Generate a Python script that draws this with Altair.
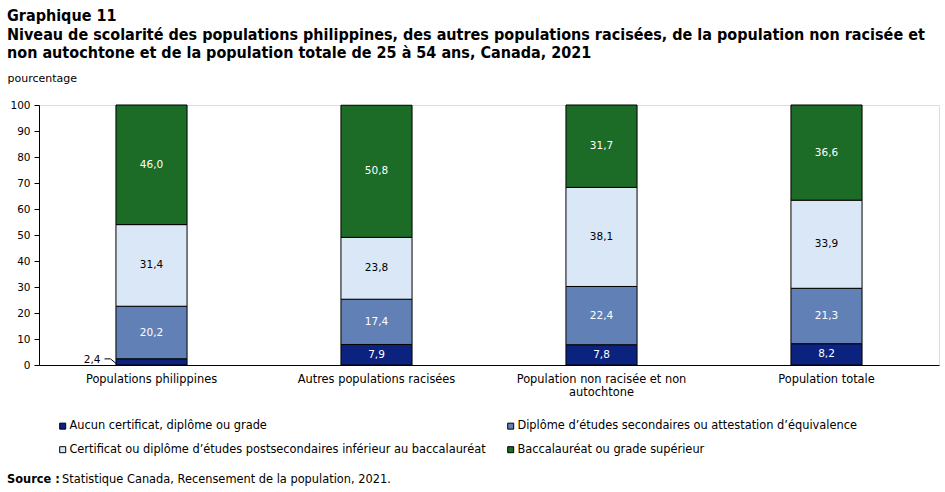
import altair as alt
import pandas as pd

categories = [
    "Populations philippines",
    "Autres populations racisées",
    "Population non racisée et non autochtone",
    "Population totale",
]
levels = [
    "Aucun certificat, diplôme ou grade",
    "Diplôme d’études secondaires ou attestation d’équivalence",
    "Certificat ou diplôme d’études postsecondaires inférieur au baccalauréat",
    "Baccalauréat ou grade supérieur",
]
aucun = [2.4, 7.9, 7.8, 8.2]
secondaire = [20.2, 17.4, 22.4, 21.3]
certificat = [31.4, 23.8, 38.1, 33.9]
bacc = [46.0, 50.8, 31.7, 36.6]
y_ticks = [0, 10, 20, 30, 40, 50, 60, 70, 80, 90, 100]
colors = ["#0b237e", "#6181b6", "#d9e7f6", "#1c6b27"]
text_colors = ["#ffffff", "#ffffff", "#000000", "#ffffff"]

rows = []
for i, c in enumerate(categories):
    for j, (lvl, vals) in enumerate(zip(levels, [aucun, secondaire, certificat, bacc])):
        rows.append({"cat": c, "level": lvl, "order": j, "value": vals[i],
                     "label": f"{vals[i]:.1f}".replace(".", ",")})
df = pd.DataFrame(rows)

FONT = "DejaVu Sans"
FS = 11.4

base = alt.Chart(df).transform_stack(
    stack="value", groupby=["cat"], sort=[alt.SortField("order")], as_=["y0", "y1"]
).transform_calculate(mid="(datum.y0 + datum.y1) / 2")

x_axis = alt.Axis(
    labelAngle=0, ticks=False, domainColor="#000000", labelColor="#000000",
    labelFont=FONT, labelFontSize=FS, labelPadding=8, labelLineHeight=13,
    labelExpr="datum.label == 'Population non racisée et non autochtone' ? ['Population non racisée et non', 'autochtone'] : datum.label",
)
x_scale = alt.Scale(paddingInner=0.684, paddingOuter=0.342)
x_enc = alt.X("cat:N", sort=categories, title=None, scale=x_scale, axis=x_axis)

y_scale = alt.Scale(domain=[0, 100], nice=False)
y_axis = alt.Axis(values=y_ticks, grid=False, labelOverlap=False,
                  domainColor="#000000", tickColor="#000000", tickSize=5,
                  labelColor="#000000", labelFont=FONT, labelFontSize=10.5,
                  labelPadding=4,
                  titleAngle=0, titleAlign="left", titleBaseline="middle",
                  titleX=-32, titleY=-27, titleFont=FONT, titleFontSize=11,
                  titleFontWeight="normal", titleColor="#000000")


def ycol(field):
    return alt.Y(field, scale=y_scale, title="pourcentage", axis=y_axis)


bars = base.mark_bar(stroke="#000000", strokeWidth=1).encode(
    x=x_enc,
    y=ycol("y0:Q"),
    y2="y1:Q",
    color=alt.Color("level:N", sort=levels,
                    scale=alt.Scale(domain=levels, range=colors),
                    legend=alt.Legend(
                        title=None, orient="none", legendX=18, legendY=315,
                        direction="horizontal", columns=2, columnPadding=19,
                        rowPadding=11, symbolType="square", symbolSize=36,
                        symbolStrokeColor="#000000", symbolStrokeWidth=1,
                        labelFont=FONT, labelFontSize=FS, labelColor="#000000",
                        labelLimit=600, symbolOffset=0, labelOffset=1,
                    )),
    order=alt.Order("order:Q"),
)

labels = base.transform_filter("datum.value >= 3").mark_text(
    font=FONT, fontSize=10.5, baseline="middle", align="center"
).encode(
    x=x_enc,
    y=ycol("mid:Q"),
    text="label:N",
    color=alt.Color("level:N", scale=alt.Scale(domain=levels, range=text_colors), legend=None),
)

small = base.transform_filter("datum.value < 3")
small_text = small.mark_text(
    font=FONT, fontSize=10.5, baseline="middle", align="right", dx=-51, dy=-2, color="#000000"
).encode(x=x_enc, y=ycol("mid:Q"), text="label:N")
lead1 = small.mark_rule(color="#000000", strokeWidth=1, xOffset=-47, x2Offset=-41,
                        yOffset=-3, y2Offset=-3).encode(
    x=x_enc, x2="cat:N", y=ycol("mid:Q"), y2="mid:Q")
lead2 = small.mark_rule(color="#000000", strokeWidth=1, xOffset=-41, x2Offset=-35,
                        yOffset=-3, y2Offset=2).encode(
    x=x_enc, x2="cat:N", y=ycol("mid:Q"), y2="mid:Q")

source = alt.Chart(pd.DataFrame({"t": ["Source :"], "u": ["Statistique Canada, Recensement de la population, 2021."]}))
src_bold = source.mark_text(font=FONT, fontSize=FS, fontWeight="bold", align="left",
                            baseline="middle", color="#000000").encode(
    x=alt.value(-32), y=alt.value(375), text="t:N")
src_norm = source.mark_text(font=FONT, fontSize=FS, align="left",
                            baseline="middle", color="#000000").encode(
    x=alt.value(23), y=alt.value(375), text="u:N")

chart = alt.layer(bars, labels, small_text, lead1, lead2, src_bold, src_norm).resolve_scale(
    color="independent"
).properties(
    width=900, height=260,
    autosize=alt.AutoSizeParams(type="none"),
    padding={"left": 39, "top": 105, "right": 6, "bottom": 127},
    title=alt.Title(
        ["Graphique 11",
         "Niveau de scolarité des populations philippines, des autres populations racisées, de la population non racisée et",
         "non autochtone et de la population totale de 25 à 54 ans, Canada, 2021"],
        anchor="start", frame="group", font="DejaVu Sans Condensed", fontSize=16,
        fontWeight="bold", color="#000000", lineHeight=18.5, dx=-32, offset=11,
    ),
).configure_view(stroke="#000000", strokeWidth=1).configure(background="#ffffff")

chart.save("out.html", embed_options={"renderer": "svg", "actions": False})
